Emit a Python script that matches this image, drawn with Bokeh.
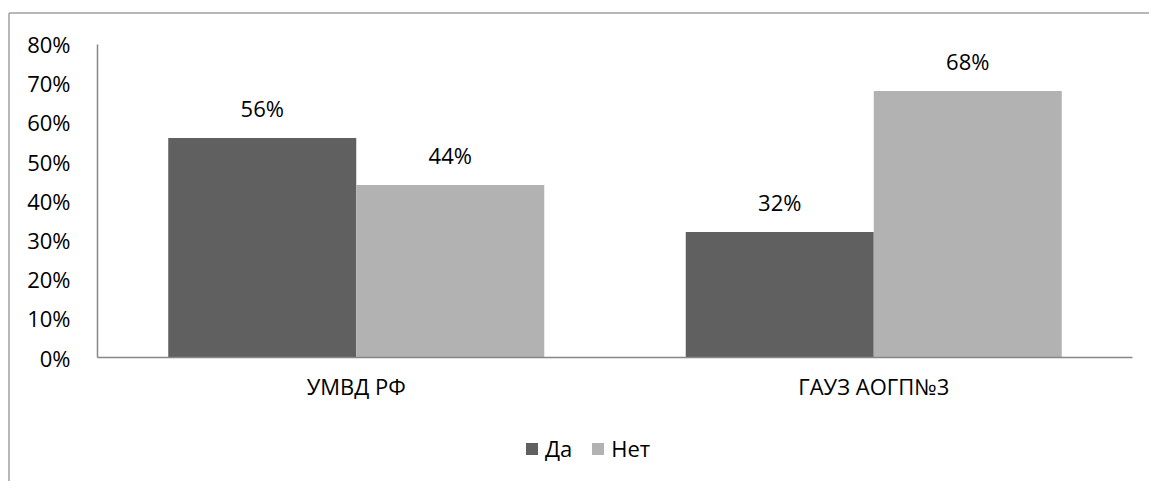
from bokeh.plotting import figure
from bokeh.models import (FixedTicker, PrintfTickFormatter, Legend,
                          LegendItem, ColumnDataSource, Range1d)
from bokeh.core.properties import value
from bokeh.embed import file_html
from bokeh.resources import INLINE

categories = ["УМВД РФ", "ГАУЗ АОГП№3"]
series_names = ["Да", "Нет"]
da_values = [56, 32]
net_values = [44, 68]
y_ticks = [0, 10, 20, 30, 40, 50, 60, 70, 80]

FONT = "Open Sans"
DARK = "#606060"
LIGHT = "#b2b2b2"
Y_MAX = 80

W, H = 1149, 481
# frame covers the whole chart area; the axes are pinned inside it
FL, FT = 7, 11                    # frame left/top in canvas px
AX_L, AX_R = 97, 1132             # plot-area left/right in px
AX_T, AX_B = 43.5, 357            # plot-area top/bottom in px
ncat = len(categories)
ppx = (AX_R - AX_L) / ncat        # px per x unit
ppy = (AX_B - AX_T) / Y_MAX       # px per y unit
x0 = -(AX_L - FL) / ppx
x1 = x0 + (W - FL) / ppx
y1 = Y_MAX + (AX_T - FT) / ppy
y0 = -(H - AX_B) / ppy

p = figure(width=W, height=H, output_backend="svg", toolbar_location=None,
           x_range=Range1d(x0, x1), y_range=Range1d(y0, y1),
           min_border_left=FL, min_border_right=0, min_border_top=FT, min_border_bottom=0)
p.outline_line_color = None
p.xgrid.grid_line_color = None
p.ygrid.grid_line_color = None
p.background_fill_color = "white"
p.border_fill_color = "white"

# outer chart border (left and top edges; right/bottom lie outside the picture)
bx = x0 + 1.5 / ppx
by = y1 - 1.5 / ppy
p.segment(x0=[bx, bx], y0=[y0, by], x1=[bx, x1], y1=[by, by],
          line_color="#a0a0a0", line_width=1.5)

centers = [i + 0.5 for i in range(ncat)]
bw = 0.3633
off = bw / 2
src_da = ColumnDataSource(dict(x=[c - off for c in centers], top=da_values,
                               lab=[f"{v}%" for v in da_values]))
src_net = ColumnDataSource(dict(x=[c + off for c in centers], top=net_values,
                                lab=[f"{v}%" for v in net_values]))
r1 = p.vbar(x="x", top="top", width=bw, source=src_da, fill_color=DARK, line_color=None)
r2 = p.vbar(x="x", top="top", width=bw, source=src_net, fill_color=LIGHT, line_color=None)

for s in (src_da, src_net):
    p.text(x="x", y="top", text="lab", source=s, text_font=value(FONT), text_font_size="22px",
           text_align="center", text_baseline="alphabetic", y_offset=-30, text_color="#000000")

# axes pinned at data 0
p.yaxis.fixed_location = 0
p.yaxis.bounds = (0, Y_MAX)
p.yaxis.ticker = FixedTicker(ticks=y_ticks)
p.yaxis.formatter = PrintfTickFormatter(format="%d%%")
p.yaxis.major_tick_line_color = None
p.yaxis.minor_tick_line_color = None
p.yaxis.axis_line_color = "#868686"
p.yaxis.axis_line_width = 1.5
p.yaxis.major_label_text_font = FONT
p.yaxis.major_label_text_font_size = "22px"
p.yaxis.major_label_text_color = "#000000"
p.yaxis.major_label_standoff = 21

p.xaxis.fixed_location = 0
p.xaxis.bounds = (0, ncat)
p.xaxis.ticker = FixedTicker(ticks=centers)
p.xaxis.major_label_overrides = {c: cat for c, cat in zip(centers, categories)}
p.xaxis.major_tick_line_color = None
p.xaxis.minor_tick_line_color = None
p.xaxis.axis_line_color = "#868686"
p.xaxis.axis_line_width = 1.5
p.xaxis.major_label_text_font = FONT
p.xaxis.major_label_text_font_size = "22px"
p.xaxis.major_label_text_color = "#000000"
p.xaxis.major_label_standoff = 7

legend = Legend(items=[LegendItem(label=series_names[0], renderers=[r1]),
                       LegendItem(label=series_names[1], renderers=[r2])],
                orientation="horizontal", location=(524 - FL, H - 463),
                glyph_width=15, glyph_height=15, label_standoff=6, spacing=18,
                padding=0, margin=0, border_line_color=None, background_fill_alpha=0,
                label_text_font=FONT, label_text_font_size="22px", label_text_color="#000000",
                label_height=15)
p.add_layout(legend, "center")

open("out.html", "w").write(file_html(p, INLINE))
